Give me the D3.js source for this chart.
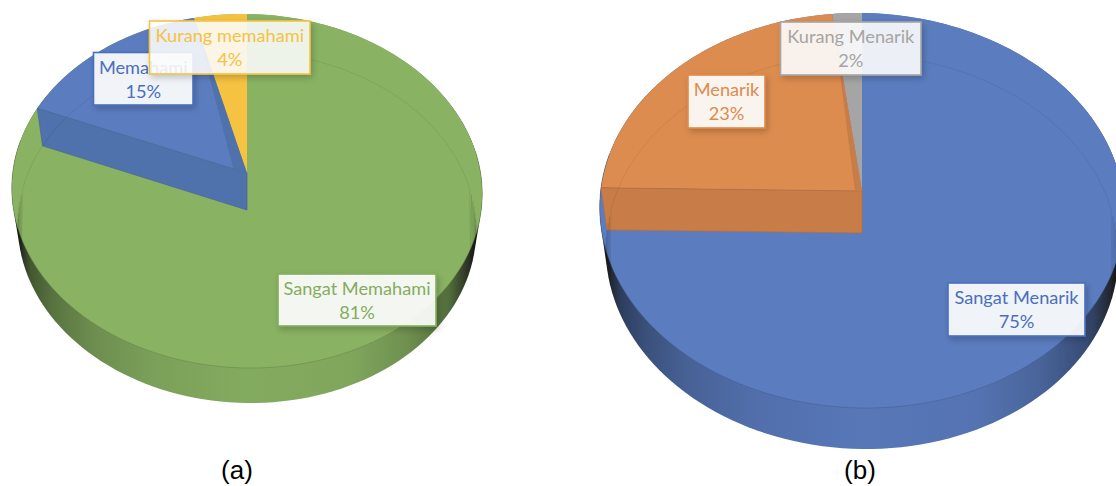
<!DOCTYPE html>
<html lang="en">
<head>
<meta charset="utf-8">
<script src="https://d3js.org/d3.v7.min.js"></script>
<style type="text/css">
	html, body { margin: 0; padding: 0; background: #fff; overflow: hidden; }
	svg { display: block; }
</style>
</head>
<body>
<script type="text/javascript">

// data, clockwise from 12 o'clock
var namesA = ["Sangat Memahami", "Memahami", "Kurang memahami"];
var valuesA = [81, 15, 4];
var colorsA = ["#89b263", "#5b7cbf", "#f5c242"];
var sidesA = ["#7ea75a", "#4f71ac", "#dba93a"];
var strokesA = ["#84ad5e", "#4a6fbd", "#f5c242"];

var namesB = ["Sangat Menarik", "Menarik", "Kurang Menarik"];
var valuesB = [75, 23, 2];
var colorsB = ["#5b7cbf", "#dd8c4f", "#a5a5a5"];
var sidesB = ["#4f71ac", "#c87c47", "#909090"];
var strokesB = ["#4a6fbd", "#e08a4c", "#a5a5a5"];

var width = 1116, height = 486;

var svg = d3.select("body").append("svg").attr("width", width).attr("height", height);
var defs = svg.append("defs");

var shadow = defs.append("filter").attr("id", "shadow")
	.attr("x", "-10%").attr("y", "-15%").attr("width", "125%").attr("height", "140%");
shadow.append("feDropShadow").attr("dx", 2).attr("dy", 3).attr("stdDeviation", 3)
	.attr("flood-color", "#000").attr("flood-opacity", 0.22);

// a circle seen in perspective: k squeezes the far half, tilt turns it slightly
function projector(p) {
	return function(a, r) {
		var u = r * Math.sin(a), v = -r * Math.cos(a);
		var w = 1 + p.k * v;
		var x = p.a * u / w;
		return [p.cx + x, p.cy + p.b * v / w + p.tilt * x];
	};
}

// fit from top/bottom of the visible ellipse around the apex
function fit(cx, apex, top, bottom, a, tilt) {
	var t = apex - top, d = bottom - apex;
	var k = (t - d) / (t + d);
	return { cx: cx, cy: apex, a: a, b: t * (1 - k), k: k, tilt: tilt };
}

var line = d3.line();

function drawPie(cfg) {
	var g = svg.append("g");
	var up = projector(cfg.top), low = projector(cfg.low);
	var slices = d3.pie().sort(null).value(function(d) { return d; })(cfg.values);
	var full = d3.range(0, 361, 2).map(function(d) { return d * Math.PI / 180; });

	function wedge(s) {
		var n = Math.max(4, Math.ceil((s.endAngle - s.startAngle) * 60));
		var pts = [up(0, 0)];
		d3.range(n + 1).forEach(function(i) {
			pts.push(up(s.startAngle + (s.endAngle - s.startAngle) * i / n, 1));
		});
		return line(pts) + "Z";
	}

	// outer wall, black at the very edges and close to the face colour in the middle
	var base = d3.color(cfg.colors[0]);
	var grad = defs.append("linearGradient").attr("id", cfg.id + "wall");
	[[0.012, "#1c1c1c"], [0.04, base.darker(2)], [0.09, base.darker(1.2)], [0.17, base.darker(0.65)],
	 [0.3, base.darker(0.3)], [0.5, base.darker(0.12)], [0.72, base.darker(0.2)], [0.84, base.darker(0.6)],
	 [0.93, base.darker(1.4)], [0.985, "#1c1c1c"]].forEach(function(s) {
		grad.append("stop").attr("offset", s[0]).attr("stop-color", s[1]);
	});
	var hull = d3.polygonHull(full.map(function(a) { return up(a, 1); })
		.concat(full.map(function(a) { return low(a, 1); })));
	g.append("path").attr("d", line(hull) + "Z").attr("fill", "url(#" + cfg.id + "wall)");

	// top faces
	g.selectAll("path.face").data(slices).enter().append("path")
		.attr("class", "face")
		.attr("d", wedge)
		.attr("fill", function(d, i) { return cfg.colors[i]; });

	// rim at the front of the top face
	g.append("path")
		.attr("d", line(full.filter(function(a) { return a > 1.4 && a < 4.9; })
			.map(function(a) { return up(a, 1); })))
		.attr("fill", "none")
		.attr("stroke", d3.color(cfg.colors[0]).darker(0.9))
		.attr("stroke-opacity", 0.6)
		.attr("stroke-width", 0.8);

	// wedge 1 is the raised one: its cut wall faces the viewer
	var s = slices[1];
	var apexTop = up(0, 0), apexLow = low(0, 0);
	var cornerTop = up(s.startAngle, 1), cornerLow = low(s.startAngle, 1);
	g.append("path")
		.attr("d", line([cornerTop, cornerLow, apexLow, apexTop]) + "Z")
		.attr("fill", cfg.sides[1])
		.attr("stroke", d3.color(cfg.sides[1]).darker(0.3))
		.attr("stroke-width", 0.7);

	// narrow strip on the far side of the wedge
	var inner = d3.interpolate(apexTop, cornerTop)(cfg.strip);
	g.append("path")
		.attr("d", line([up(s.endAngle, 1), inner, apexTop]) + "Z")
		.attr("fill", cfg.sides[1]);

	// far rim of the base showing through
	g.append("path")
		.attr("d", line(full.filter(function(a) { return a < 1.9 || a > 4.4; })
			.map(function(a) { return low(a, 1); }).sort(function(p, q) { return p[0] - q[0]; })))
		.attr("fill", "none")
		.attr("stroke", "#000")
		.attr("stroke-opacity", 0.07)
		.attr("stroke-width", 1);

	// callouts
	cfg.boxes.forEach(function(b) {
		var i = b.i;
		var lab = g.append("g");
		lab.append("rect")
			.attr("x", b.x0).attr("y", b.y0)
			.attr("width", b.x1 - b.x0).attr("height", b.y1 - b.y0)
			.attr("fill", "#fff").attr("fill-opacity", b.o)
			.attr("stroke", cfg.strokes[i]).attr("stroke-width", 1.6)
			.attr("filter", "url(#shadow)");
		var tx = lab.append("text")
			.attr("text-anchor", "middle")
			.attr("font-family", "Lato, 'Noto Sans', sans-serif")
			.attr("font-size", 18.2)
			.attr("fill", cfg.strokes[i]);
		tx.append("tspan").attr("x", (b.x0 + b.x1) / 2).attr("y", b.y0 + 21).text(cfg.names[i]);
		tx.append("tspan").attr("x", (b.x0 + b.x1) / 2).attr("y", b.y0 + 45).text(cfg.values[i] + "%");
	});

	svg.append("text")
		.attr("x", cfg.capX).attr("y", 479)
		.attr("text-anchor", "middle")
		.attr("font-family", "'Liberation Sans', Arial, sans-serif")
		.attr("font-size", 26)
		.attr("fill", "#000")
		.text(cfg.caption);
}

drawPie({
	id: "a",
	names: namesA, values: valuesA, colors: colorsA, sides: sidesA, strokes: strokesA,
	top: fit(247, 173, 14, 368, 234, 0.012),
	low: fit(247, 210, 52, 403, 228, 0.012),
	strip: 0.065,
	boxes: [
		{ i: 1, x0: 93.5, y0: 52.5, x1: 193, y1: 105, o: 0.9 },
		{ i: 2, x0: 149.5, y0: 21, x1: 310, y1: 74, o: 0.86 },
		{ i: 0, x0: 278, y0: 274, x1: 436, y1: 326, o: 0.9 }
	],
	capX: 237, caption: "(a)"
});

drawPie({
	id: "b",
	names: namesB, values: valuesB, colors: colorsB, sides: sidesB, strokes: strokesB,
	top: fit(862, 191, 13, 408, 261, 0.012),
	low: fit(862, 233, 55, 449, 255, 0.012),
	strip: 0.027,
	boxes: [
		{ i: 1, x0: 688, y0: 75, x1: 765, y1: 128, o: 0.9 },
		{ i: 2, x0: 780.5, y0: 22, x1: 921, y1: 75, o: 0.88 },
		{ i: 0, x0: 948, y0: 283, x1: 1085, y1: 336, o: 0.9 }
	],
	capX: 860, caption: "(b)"
});
</script>
</body>
</html>
